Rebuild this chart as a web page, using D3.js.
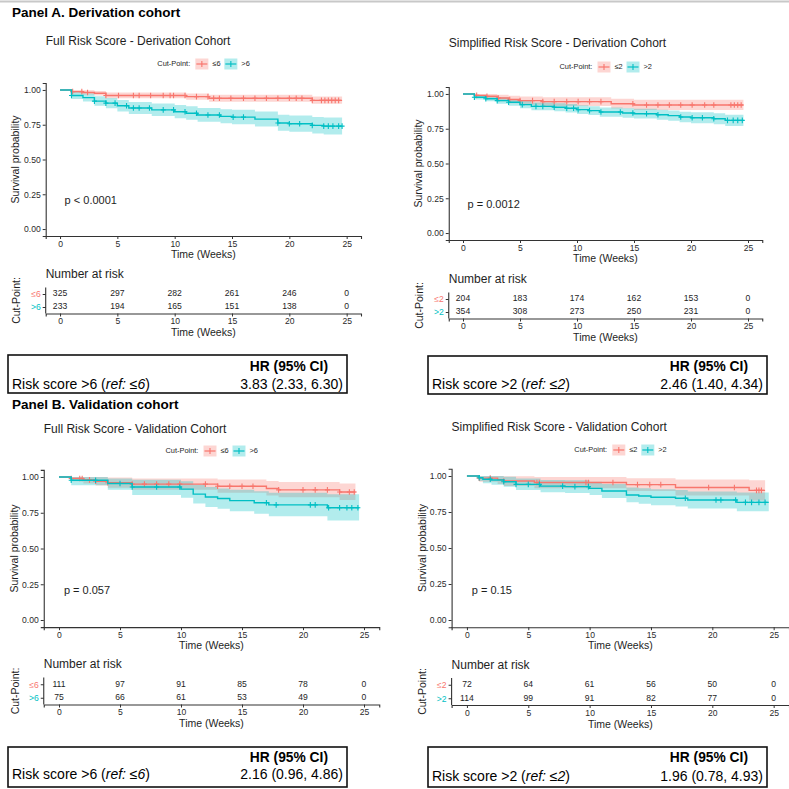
<!DOCTYPE html>
<html><head><meta charset="utf-8">
<script src="https://cdn.jsdelivr.net/npm/d3@7"></script>
<style>body{margin:0;background:#fff} svg{display:block} text{font-family:"Liberation Sans",Arial,Helvetica,sans-serif}</style>
</head><body><svg id="c" width="789" height="789"></svg>
<script>
// ---------------- DATA ----------------
const timeTicks = [0, 5, 10, 15, 20, 25];
const survTicks = [0, 0.25, 0.5, 0.75, 1];

// Panel A - Full risk score, derivation cohort
const aFullLeTime  = [0, 1, 2, 3, 4, 11, 13, 22, 24.6];
const aFullLeSurv  = [1, 0.988, 0.982, 0.976, 0.96, 0.952, 0.94, 0.925, 0.925];
const aFullLeLower = [1, 0.976, 0.967, 0.96, 0.94, 0.93, 0.915, 0.9, 0.9];
const aFullLeUpper = [1, 1, 0.997, 0.993, 0.981, 0.975, 0.966, 0.953, 0.953];
const aFullLeCens  = [1.1, 1.9, 2.4, 4.0, 5.1, 6.4, 6.9, 7.9, 9.0, 9.6, 9.9, 10.9, 11.9, 12.9, 13.4, 13.9, 14.9, 16.0, 17.0, 18.0, 19.0, 20.0, 20.6, 21.1, 22.0, 22.8, 23.1, 23.4, 23.7, 24.0, 24.3];
const aFullGtTime  = [0, 1, 2, 3, 4, 5, 6, 8, 10, 11, 12, 14, 15, 17, 19, 20, 22, 23, 24.6];
const aFullGtSurv  = [1, 0.96, 0.945, 0.92, 0.905, 0.886, 0.87, 0.857, 0.843, 0.833, 0.82, 0.81, 0.805, 0.79, 0.762, 0.757, 0.745, 0.74, 0.74];
const aFullGtLower = [1, 0.935, 0.917, 0.886, 0.868, 0.846, 0.828, 0.813, 0.797, 0.786, 0.771, 0.76, 0.754, 0.737, 0.706, 0.7, 0.687, 0.68, 0.68];
const aFullGtUpper = [1, 0.985, 0.974, 0.955, 0.943, 0.928, 0.914, 0.903, 0.891, 0.882, 0.871, 0.862, 0.858, 0.845, 0.821, 0.817, 0.806, 0.802, 0.802];
const aFullGtCens  = [1.0, 3.0, 4.0, 4.8, 5.8, 6.4, 6.9, 7.8, 9.0, 9.9, 10.9, 11.9, 12.9, 13.9, 15.1, 16.0, 19.0, 20.0, 20.9, 22.0, 23.0, 23.4, 23.8, 24.3, 24.6];
const aFullRiskLe = [325, 297, 282, 261, 246, 0];
const aFullRiskGt = [233, 194, 165, 151, 138, 0];

// Panel A - Simplified risk score, derivation cohort
const aSimpLeTime  = [0, 1, 2, 3, 4, 5, 7, 13, 15, 24.6];
const aSimpLeSurv  = [1, 0.99, 0.983, 0.971, 0.96, 0.952, 0.945, 0.93, 0.921, 0.921];
const aSimpLeLower = [1, 0.976, 0.965, 0.948, 0.934, 0.923, 0.914, 0.895, 0.884, 0.884];
const aSimpLeUpper = [1, 1, 1, 0.994, 0.987, 0.981, 0.976, 0.966, 0.959, 0.959];
const aSimpLeCens  = [1.2, 2.1, 3.1, 4.1, 5.0, 6.1, 7.0, 8.0, 9.1, 10.1, 11.1, 12.1, 14.9, 16.1, 17.1, 18.1, 19.1, 20.1, 21.2, 22.0, 23.5, 23.8, 24.1, 24.4];
const aSimpGtTime  = [0, 1, 2, 3, 4, 5, 6, 8, 9, 10, 11, 12, 14, 15, 17, 18, 19, 20, 22, 23, 24.6];
const aSimpGtSurv  = [1, 0.976, 0.966, 0.952, 0.94, 0.923, 0.911, 0.904, 0.897, 0.887, 0.88, 0.87, 0.863, 0.858, 0.851, 0.844, 0.834, 0.829, 0.822, 0.81, 0.81];
const aSimpGtLower = [1, 0.96, 0.947, 0.93, 0.916, 0.897, 0.883, 0.875, 0.867, 0.856, 0.848, 0.837, 0.829, 0.823, 0.815, 0.807, 0.796, 0.79, 0.782, 0.769, 0.769];
const aSimpGtUpper = [1, 0.992, 0.985, 0.974, 0.964, 0.95, 0.939, 0.933, 0.927, 0.918, 0.912, 0.903, 0.897, 0.893, 0.887, 0.881, 0.872, 0.868, 0.862, 0.851, 0.851];
const aSimpGtCens  = [1.0, 2.0, 3.0, 4.0, 5.2, 6.4, 7.0, 8.0, 9.1, 9.7, 10.1, 11.1, 12.1, 13.8, 14.9, 16.1, 17.1, 19.1, 20.1, 21.0, 22.0, 23.2, 23.7, 24.1, 24.5];
const aSimpRiskLe = [204, 183, 174, 162, 153, 0];
const aSimpRiskGt = [354, 308, 273, 250, 231, 0];

// Panel B - Full risk score, validation cohort
const bFullLeTime  = [0, 1, 2, 3, 4, 6, 13, 17, 18, 23, 24.3];
const bFullLeSurv  = [1, 0.99, 0.98, 0.97, 0.96, 0.95, 0.935, 0.92, 0.91, 0.895, 0.895];
const bFullLeLower = [1, 0.97, 0.955, 0.94, 0.925, 0.91, 0.89, 0.87, 0.858, 0.84, 0.84];
const bFullLeUpper = [1, 1, 1, 1, 0.997, 0.99, 0.982, 0.972, 0.965, 0.955, 0.955];
const bFullLeCens  = [1.0, 1.7, 1.9, 2.5, 3.0, 4.0, 6.0, 7.0, 8.0, 9.0, 9.9, 12.0, 13.0, 14.0, 15.0, 15.9, 18.0, 20.0, 21.0, 22.0, 23.0, 23.8, 24.2];
const bFullGtTime  = [0, 1, 4, 6, 10, 11, 12, 13, 14, 16, 17.2, 22, 24.6];
const bFullGtSurv  = [1, 0.977, 0.955, 0.93, 0.915, 0.88, 0.86, 0.85, 0.835, 0.82, 0.805, 0.785, 0.785];
const bFullGtLower = [1, 0.943, 0.91, 0.875, 0.855, 0.815, 0.79, 0.778, 0.76, 0.743, 0.725, 0.695, 0.695];
const bFullGtUpper = [1, 1, 0.99, 0.98, 0.97, 0.945, 0.93, 0.92, 0.91, 0.9, 0.89, 0.88, 0.88];
const bFullGtCens  = [1.0, 3.0, 5.0, 6.0, 8.0, 9.9, 17.0, 17.8, 20.6, 21.0, 22.1, 23.0, 23.6, 24.0, 24.5];
const bFullRiskLe = [111, 97, 91, 85, 78, 0];
const bFullRiskGt = [75, 66, 61, 53, 49, 0];

// Panel B - Simplified risk score, validation cohort
const bSimpLeTime  = [0, 1, 2.5, 3, 5.5, 13, 17, 23, 24.3];
const bSimpLeSurv  = [1, 0.985, 0.975, 0.965, 0.955, 0.94, 0.92, 0.9, 0.9];
const bSimpLeLower = [1, 0.96, 0.945, 0.93, 0.915, 0.895, 0.865, 0.83, 0.83];
const bSimpLeUpper = [1, 1, 1, 0.998, 0.993, 0.985, 0.975, 0.97, 0.97];
const bSimpLeCens  = [1.0, 1.9, 3.0, 5.7, 5.9, 9.7, 9.9, 11.9, 13.9, 14.9, 15.8, 19.7, 21.8, 23.6, 23.8, 24.0];
const bSimpGtTime  = [0, 1, 1.3, 2, 3, 4, 6, 8, 10, 11, 13, 14, 15, 17, 18, 22, 24.6];
const bSimpGtSurv  = [1, 0.988, 0.977, 0.972, 0.96, 0.942, 0.93, 0.926, 0.914, 0.896, 0.868, 0.861, 0.852, 0.845, 0.833, 0.817, 0.817];
const bSimpGtLower = [1, 0.965, 0.95, 0.94, 0.925, 0.903, 0.888, 0.882, 0.868, 0.848, 0.817, 0.808, 0.797, 0.789, 0.775, 0.755, 0.755];
const bSimpGtUpper = [1, 1, 1, 1, 0.995, 0.982, 0.972, 0.97, 0.96, 0.945, 0.92, 0.915, 0.908, 0.902, 0.893, 0.885, 0.885];
const bSimpGtCens  = [1.0, 1.9, 3.0, 4.0, 5.0, 5.9, 7.8, 8.8, 9.9, 17.8, 20.3, 20.7, 21.9, 22.7, 23.2, 23.8, 24.3];
const bSimpRiskLe = [72, 64, 61, 56, 50, 0];
const bSimpRiskGt = [114, 99, 91, 82, 77, 0];

const panelTitles = ["Panel A. Derivation cohort", "Panel B. Validation cohort"];
const plotTitles = ["Full Risk Score - Derivation Cohort", "Simplified Risk Score - Derivation Cohort",
                    "Full Risk Score - Validation Cohort", "Simplified Risk Score - Validation Cohort"];
const pValues = ["p < 0.0001", "p = 0.0012", "p = 0.057", "p = 0.15"];
const groupLabels = [["≤6", ">6"], ["≤2", ">2"], ["≤6", ">6"], ["≤2", ">2"]];
const hrValues = ["3.83 (2.33, 6.30)", "2.46 (1.40, 4.34)", "2.16 (0.96, 4.86)", "1.96 (0.78, 4.93)"];

// ---------------- DRAWING ----------------
const RED = "#F8766D", TEAL = "#00BFC4", INK = "#1e1e1e";
const svg = d3.select("#c");
svg.append("rect").attr("width", 789).attr("height", 789).attr("fill", "#fff");
svg.append("line").attr("x1", 0).attr("x2", 789).attr("y1", 1.5).attr("y2", 1.5)
  .attr("stroke", "#c8c8c8").attr("stroke-width", 2);

svg.append("text").attr("x", 12).attr("y", 13).attr("dominant-baseline", "middle")
  .attr("font-size", 13.5).attr("font-weight", "bold").attr("fill", "#000").text(panelTitles[0]);
svg.append("text").attr("x", 12).attr("y", 405).attr("dominant-baseline", "middle")
  .attr("font-size", 13.5).attr("font-weight", "bold").attr("fill", "#000").text(panelTitles[1]);

function mk(time, surv, lower, upper, cens) {
  return time.map((t, i) => ({t, s: surv[i], lo: lower[i], hi: upper[i], cens}));
}

const plots = [
  {L: 45.7, R: 361, T: 83, B: 236, titleY: 42, legY: 64, tblT: 287.5, tblB: 313.5, ylabX: 16, cpX: 17,
   box: {x0: 8, x1: 347, y0: 355, y1: 393, hrX: 328, hrY: 367, rowY: 385, txtX: 12, valX: 343},
   groups: [
     {time: aFullLeTime, surv: aFullLeSurv, lower: aFullLeLower, upper: aFullLeUpper, cens: aFullLeCens, color: RED},
     {time: aFullGtTime, surv: aFullGtSurv, lower: aFullGtLower, upper: aFullGtUpper, cens: aFullGtCens, color: TEAL}],
   risk: [aFullRiskLe, aFullRiskGt]},
  {L: 448.75, R: 762.25, T: 87, B: 240, titleY: 44, legY: 67, tblT: 292.5, tblB: 318.5, ylabX: 419, cpX: 420,
   box: {x0: 428, x1: 767, y0: 356, y1: 394, hrX: 748, hrY: 367, rowY: 385, txtX: 432, valX: 763},
   groups: [
     {time: aSimpLeTime, surv: aSimpLeSurv, lower: aSimpLeLower, upper: aSimpLeUpper, cens: aSimpLeCens, color: RED},
     {time: aSimpGtTime, surv: aSimpGtSurv, lower: aSimpGtLower, upper: aSimpGtUpper, cens: aSimpGtCens, color: TEAL}],
   risk: [aSimpRiskLe, aSimpRiskGt]},
  {L: 43.75, R: 379.25, T: 469.85, B: 627.15, titleY: 430, legY: 451, tblT: 677.5, tblB: 704.5, ylabX: 15, cpX: 16,
   box: {x0: 8, x1: 347, y0: 747, y1: 787, hrX: 328, hrY: 758, rowY: 775, txtX: 12, valX: 343},
   groups: [
     {time: bFullLeTime, surv: bFullLeSurv, lower: bFullLeLower, upper: bFullLeUpper, cens: bFullLeCens, color: RED},
     {time: bFullGtTime, surv: bFullGtSurv, lower: bFullGtLower, upper: bFullGtUpper, cens: bFullGtCens, color: TEAL}],
   risk: [bFullRiskLe, bFullRiskGt]},
  {L: 451.6, R: 789, T: 468.8, B: 627.2, titleY: 428, legY: 450, tblT: 678, tblB: 705, ylabX: 423, cpX: 423,
   box: {x0: 428, x1: 767, y0: 747, y1: 787, hrX: 748, hrY: 758, rowY: 777, txtX: 432, valX: 763},
   groups: [
     {time: bSimpLeTime, surv: bSimpLeSurv, lower: bSimpLeLower, upper: bSimpLeUpper, cens: bSimpLeCens, color: RED},
     {time: bSimpGtTime, surv: bSimpGtSurv, lower: bSimpGtLower, upper: bSimpGtUpper, cens: bSimpGtCens, color: TEAL}],
   risk: [bSimpRiskLe, bSimpRiskGt]}
];

function stepAt(g, t) {
  let v = g.surv[0];
  for (let i = 0; i < g.time.length; i++) { if (g.time[i] <= t) v = g.surv[i]; }
  return v;
}

function styleAxis(sel, fs) {
  sel.selectAll("path.domain").attr("stroke", "#333").attr("stroke-width", 1.1);
  sel.selectAll(".tick line").attr("stroke", "#333").attr("stroke-width", 1);
  sel.selectAll(".tick text").attr("font-size", fs).attr("fill", "#2a2a2a")
    .attr("font-family", '"Liberation Sans",Arial,sans-serif');
}

plots.forEach((p, pi) => {
  const x = d3.scaleLinear().domain([-1.25, 26.25]).range([p.L, p.R]);
  const y = d3.scaleLinear().domain([-0.05, 1.05]).range([p.B, p.T]);
  const g = svg.append("g");

  // title
  g.append("text").attr("x", p.L).attr("y", p.titleY).attr("dominant-baseline", "middle")
    .attr("font-size", 12).attr("fill", INK).text(plotTitles[pi]);

  // legend
  const cx = (p.L + p.R) / 2, lx = cx - 46;
  g.append("text").attr("x", lx).attr("y", p.legY).attr("dominant-baseline", "middle")
    .attr("font-size", 7.4).attr("fill", INK).text("Cut-Point:");
  [[38, 55], [67, 84]].forEach((off, k) => {
    const col = p.groups[k].color, kx = lx + off[0];
    g.append("rect").attr("x", kx).attr("y", p.legY - 5.5).attr("width", 13).attr("height", 11)
      .attr("fill", col).attr("fill-opacity", 0.3);
    g.append("line").attr("x1", kx + 1).attr("x2", kx + 12).attr("y1", p.legY).attr("y2", p.legY)
      .attr("stroke", col).attr("stroke-width", 1.2);
    g.append("line").attr("x1", kx + 6.5).attr("x2", kx + 6.5).attr("y1", p.legY - 3).attr("y2", p.legY + 3)
      .attr("stroke", col).attr("stroke-width", 1.1);
    g.append("text").attr("x", lx + off[1]).attr("y", p.legY).attr("dominant-baseline", "middle")
      .attr("font-size", 7.4).attr("fill", INK).text(groupLabels[pi][k]);
  });

  // bands
  const area = d3.area().curve(d3.curveStepAfter).x(d => x(d.t)).y0(d => y(d.lo)).y1(d => y(d.hi));
  const line = d3.line().curve(d3.curveStepAfter).x(d => x(d.t)).y(d => y(d.s));
  p.groups.forEach(gr => {
    const pts = mk(gr.time, gr.surv, gr.lower, gr.upper);
    g.append("path").attr("d", area(pts)).attr("fill", gr.color).attr("fill-opacity", 0.3);
  });
  p.groups.forEach(gr => {
    const pts = mk(gr.time, gr.surv, gr.lower, gr.upper);
    g.append("path").attr("d", line(pts)).attr("fill", "none").attr("stroke", gr.color).attr("stroke-width", 1.4);
    gr.cens.forEach(c => {
      const cxp = x(c), cyp = y(stepAt(gr, c));
      g.append("path").attr("d", `M${cxp - 2.5},${cyp}H${cxp + 2.5}M${cxp},${cyp - 2.8}V${cyp + 2.8}`)
        .attr("stroke", gr.color).attr("stroke-width", 1.1).attr("fill", "none");
    });
  });

  // axes
  const ya = g.append("g").attr("transform", `translate(${p.L},0)`)
    .call(d3.axisLeft(y).tickValues(survTicks).tickFormat(d3.format(".2f")).tickSizeOuter(0).tickSize(3).tickPadding(2));
  styleAxis(ya, 8.6);
  const xa = g.append("g").attr("transform", `translate(0,${p.B})`)
    .call(d3.axisBottom(x).tickValues(timeTicks).tickSizeOuter(0).tickSize(3).tickPadding(1.5));
  styleAxis(xa, 8.6);

  g.append("text").attr("transform", `translate(${p.ylabX},${(p.T + p.B) / 2}) rotate(-90)`)
    .attr("text-anchor", "middle").attr("dominant-baseline", "middle")
    .attr("font-size", 10.5).attr("fill", INK).text("Survival probability");
  g.append("text").attr("x", (p.L + p.R) / 2).attr("y", p.B + 19).attr("text-anchor", "middle")
    .attr("dominant-baseline", "middle").attr("font-size", 10.5).attr("fill", INK).text("Time (Weeks)");

  // p-value
  g.append("text").attr("x", x(0.4)).attr("y", y(0.2)).attr("dominant-baseline", "middle")
    .attr("font-size", 11).attr("fill", INK).text(pValues[pi]);

  // risk table
  const ty = d3.scalePoint().domain([0, 1]).range([p.tblT, p.tblB]).padding(0.5);
  g.append("text").attr("x", p.L).attr("y", p.tblT - 12.5).attr("dominant-baseline", "middle")
    .attr("font-size", 12).attr("fill", INK).text("Number at risk");
  p.risk.forEach((row, k) => {
    row.forEach((n, i) => {
      g.append("text").attr("x", x(timeTicks[i])).attr("y", ty(k)).attr("text-anchor", "middle")
        .attr("dominant-baseline", "middle").attr("font-size", 8.6).attr("fill", INK).text(n);
    });
  });
  const tya = g.append("g").attr("transform", `translate(${p.L},0)`)
    .call(d3.axisLeft(ty).tickFormat(k => groupLabels[pi][k]).tickSizeOuter(0).tickSize(3).tickPadding(2));
  styleAxis(tya, 8.6);
  tya.selectAll(".tick text").attr("fill", (d) => p.groups[d].color);
  tya.select("path.domain").attr("d", `M0,${p.tblT}V${p.tblB}`);
  const txa = g.append("g").attr("transform", `translate(0,${p.tblB})`)
    .call(d3.axisBottom(x).tickValues(timeTicks).tickSizeOuter(0).tickSize(3).tickPadding(1.5));
  styleAxis(txa, 8.6);
  g.append("text").attr("x", (p.L + p.R) / 2).attr("y", p.tblB + 20).attr("text-anchor", "middle")
    .attr("dominant-baseline", "middle").attr("font-size", 10.5).attr("fill", INK).text("Time (Weeks)");
  g.append("text").attr("transform", `translate(${p.cpX},${(p.tblT + p.tblB) / 2}) rotate(-90)`)
    .attr("text-anchor", "middle").attr("dominant-baseline", "middle")
    .attr("font-size", 10.5).attr("fill", INK).text("Cut-Point:");

  // HR box
  const b = p.box;
  g.append("rect").attr("x", b.x0).attr("y", b.y0).attr("width", b.x1 - b.x0).attr("height", b.y1 - b.y0)
    .attr("fill", "none").attr("stroke", "#111").attr("stroke-width", 1.6);
  g.append("text").attr("x", b.hrX).attr("y", b.hrY).attr("text-anchor", "end").attr("dominant-baseline", "middle")
    .attr("font-size", 13.8).attr("font-weight", "bold").attr("fill", "#000").text("HR (95% CI)");
  const rt = g.append("text").attr("x", b.txtX).attr("y", b.rowY).attr("dominant-baseline", "middle")
    .attr("font-size", 14).attr("fill", "#000");
  rt.append("tspan").text(`Risk score ${groupLabels[pi][1]} (`);
  rt.append("tspan").attr("font-style", "italic").text(`ref: ${groupLabels[pi][0]}`);
  rt.append("tspan").text(")");
  g.append("text").attr("x", b.valX).attr("y", b.rowY).attr("text-anchor", "end").attr("dominant-baseline", "middle")
    .attr("font-size", 14).attr("fill", "#000").text(hrValues[pi]);
});
</script></body></html>
